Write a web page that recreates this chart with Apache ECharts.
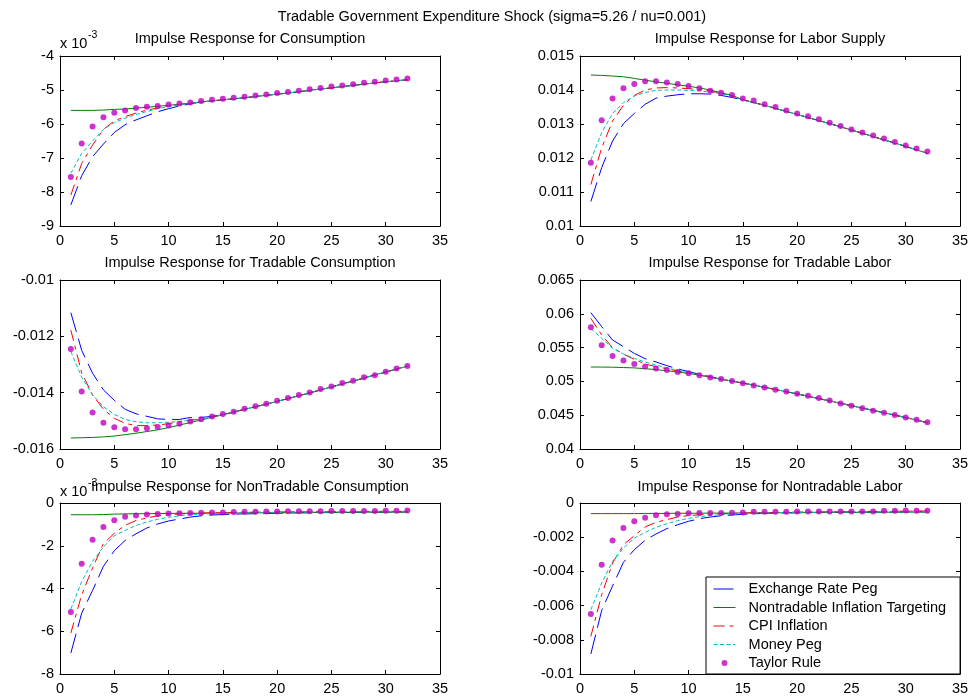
<!DOCTYPE html>
<html><head><meta charset="utf-8">
<script src="https://cdn.jsdelivr.net/npm/echarts@6/dist/echarts.min.js"></script>
<style>html,body{margin:0;padding:0;background:#fff}#c{width:972px;height:698px}</style>
</head><body><div id="c"></div>
<script>
// ---------- data ----------
const periods = [1,2,3,4,5,6,7,8,9,10,11,12,13,14,15,16,17,18,19,20,21,22,23,24,25,26,27,28,29,30,31,32];
const seriesNames = ['Exchange Rate Peg','Nontradable Inflation Targeting','CPI Inflation','Money Peg','Taylor Rule'];
const mainTitle = 'Tradable Government Expenditure Shock (sigma=5.26 / nu=0.001)';
const panelTitles = ['Impulse Response for Consumption','Impulse Response for Labor Supply',
  'Impulse Response for Tradable Consumption','Impulse Response for Tradable Labor',
  'Impulse Response for NonTradable Consumption','Impulse Response for Nontradable Labor'];
const xTicks = [0,5,10,15,20,25,30,35];

// Consumption
const consPeg    = [-0.00838,-0.00752,-0.00696,-0.00659,-0.00625,-0.00602,-0.00588,-0.00576,-0.00564,-0.00555,-0.00547,-0.00541,-0.00535,-0.00532,-0.00529,-0.00526,-0.00523,-0.00519,-0.00516,-0.00512,-0.00509,-0.00505,-0.00501,-0.00497,-0.00494,-0.00490,-0.00486,-0.00483,-0.00479,-0.00476,-0.00473,-0.00470];
const consNIT    = [-0.00560,-0.00560,-0.00560,-0.00559,-0.00557,-0.00556,-0.00553,-0.00551,-0.00548,-0.00545,-0.00542,-0.00539,-0.00535,-0.00532,-0.00529,-0.00526,-0.00523,-0.00519,-0.00516,-0.00512,-0.00509,-0.00505,-0.00501,-0.00497,-0.00494,-0.00490,-0.00486,-0.00483,-0.00479,-0.00476,-0.00473,-0.00470];
const consCPI    = [-0.00809,-0.00716,-0.00662,-0.00616,-0.00591,-0.00578,-0.00568,-0.00559,-0.00553,-0.00547,-0.00543,-0.00539,-0.00535,-0.00532,-0.00529,-0.00526,-0.00523,-0.00519,-0.00516,-0.00512,-0.00509,-0.00505,-0.00501,-0.00497,-0.00494,-0.00490,-0.00486,-0.00483,-0.00479,-0.00476,-0.00473,-0.00470];
const consMoney  = [-0.00745,-0.00686,-0.00650,-0.00616,-0.00596,-0.00583,-0.00572,-0.00563,-0.00555,-0.00549,-0.00544,-0.00540,-0.00535,-0.00532,-0.00529,-0.00526,-0.00523,-0.00519,-0.00516,-0.00512,-0.00509,-0.00505,-0.00501,-0.00497,-0.00494,-0.00490,-0.00486,-0.00483,-0.00479,-0.00476,-0.00473,-0.00470];
const consTaylor = [-0.00756,-0.00657,-0.00607,-0.00580,-0.00567,-0.00560,-0.00553,-0.00549,-0.00547,-0.00543,-0.00540,-0.00537,-0.00532,-0.00529,-0.00526,-0.00523,-0.00520,-0.00516,-0.00513,-0.00509,-0.00506,-0.00502,-0.00498,-0.00494,-0.00490,-0.00487,-0.00483,-0.00479,-0.00476,-0.00472,-0.00469,-0.00466];

// Labor Supply
const labPeg    = [0.01072,0.01172,0.01250,0.01301,0.01331,0.01358,0.01376,0.01382,0.01386,0.01389,0.01389,0.01388,0.01384,0.01378,0.01371,0.01363,0.01355,0.01346,0.01337,0.01328,0.01319,0.01310,0.01301,0.01292,0.01282,0.01273,0.01263,0.01253,0.01244,0.01234,0.01224,0.01214];
const labNIT    = [0.01444,0.01443,0.01441,0.01439,0.01434,0.01429,0.01424,0.01420,0.01415,0.01411,0.01406,0.01400,0.01392,0.01384,0.01371,0.01363,0.01355,0.01346,0.01337,0.01328,0.01319,0.01310,0.01301,0.01292,0.01282,0.01273,0.01263,0.01253,0.01244,0.01234,0.01224,0.01214];
const labCPI    = [0.01122,0.01230,0.01309,0.01355,0.01384,0.01400,0.01406,0.01407,0.01406,0.01404,0.01401,0.01397,0.01390,0.01383,0.01371,0.01363,0.01355,0.01346,0.01337,0.01328,0.01319,0.01310,0.01301,0.01292,0.01282,0.01273,0.01263,0.01253,0.01244,0.01234,0.01224,0.01214];
const labMoney  = [0.01194,0.01275,0.01331,0.01363,0.01382,0.01393,0.01399,0.01400,0.01400,0.01399,0.01397,0.01394,0.01389,0.01382,0.01371,0.01363,0.01355,0.01346,0.01337,0.01328,0.01319,0.01310,0.01301,0.01292,0.01282,0.01273,0.01263,0.01253,0.01244,0.01234,0.01224,0.01214];
const labTaylor = [0.01186,0.01311,0.01375,0.01405,0.01418,0.01426,0.01426,0.01422,0.01418,0.01412,0.01405,0.01398,0.01392,0.01385,0.01375,0.01369,0.01358,0.01350,0.01340,0.01331,0.01323,0.01314,0.01304,0.01294,0.01284,0.01275,0.01266,0.01257,0.01247,0.01237,0.01228,0.01219];

// Tradable Consumption
const tcPeg    = [-0.01116,-0.01250,-0.01331,-0.01390,-0.01427,-0.01459,-0.01475,-0.01484,-0.01493,-0.01495,-0.01495,-0.01488,-0.01488,-0.01484,-0.01478,-0.01469,-0.01459,-0.01450,-0.01441,-0.01431,-0.01421,-0.01411,-0.01401,-0.01390,-0.01380,-0.01369,-0.01359,-0.01348,-0.01337,-0.01327,-0.01316,-0.01306];
const tcNIT    = [-0.01561,-0.01560,-0.01559,-0.01557,-0.01554,-0.01549,-0.01544,-0.01538,-0.01532,-0.01524,-0.01515,-0.01506,-0.01497,-0.01487,-0.01478,-0.01469,-0.01459,-0.01450,-0.01441,-0.01431,-0.01421,-0.01411,-0.01401,-0.01390,-0.01380,-0.01369,-0.01359,-0.01348,-0.01337,-0.01327,-0.01316,-0.01306];
const tcCPI    = [-0.01178,-0.01330,-0.01408,-0.01459,-0.01491,-0.01509,-0.01517,-0.01517,-0.01515,-0.01510,-0.01503,-0.01497,-0.01495,-0.01487,-0.01478,-0.01469,-0.01459,-0.01450,-0.01441,-0.01431,-0.01421,-0.01411,-0.01401,-0.01390,-0.01380,-0.01369,-0.01359,-0.01348,-0.01337,-0.01327,-0.01316,-0.01306];
const tcMoney  = [-0.01254,-0.01345,-0.01408,-0.01450,-0.01477,-0.01495,-0.01503,-0.01507,-0.01507,-0.01505,-0.01502,-0.01498,-0.01495,-0.01487,-0.01478,-0.01469,-0.01459,-0.01450,-0.01441,-0.01431,-0.01421,-0.01411,-0.01401,-0.01390,-0.01380,-0.01369,-0.01359,-0.01348,-0.01337,-0.01327,-0.01316,-0.01306];
const tcTaylor = [-0.01245,-0.01396,-0.01470,-0.01507,-0.01523,-0.01530,-0.01530,-0.01526,-0.01522,-0.01517,-0.01510,-0.01502,-0.01494,-0.01485,-0.01476,-0.01468,-0.01457,-0.01448,-0.01439,-0.01429,-0.01419,-0.01408,-0.01399,-0.01387,-0.01378,-0.01366,-0.01358,-0.01345,-0.01338,-0.01326,-0.01314,-0.01305];

// Tradable Labor
const tlPeg    = [0.06017,0.05810,0.05612,0.05514,0.05415,0.05336,0.05287,0.05233,0.05185,0.05145,0.05105,0.05070,0.05033,0.05004,0.04975,0.04944,0.04912,0.04880,0.04848,0.04815,0.04780,0.04746,0.04711,0.04676,0.04641,0.04606,0.04571,0.04536,0.04501,0.04465,0.04428,0.04388];
const tlNIT    = [0.05213,0.05212,0.05210,0.05205,0.05200,0.05188,0.05174,0.05158,0.05138,0.05118,0.05093,0.05060,0.05033,0.05004,0.04975,0.04944,0.04912,0.04880,0.04848,0.04815,0.04780,0.04746,0.04711,0.04676,0.04641,0.04606,0.04571,0.04536,0.04501,0.04465,0.04428,0.04388];
const tlCPI    = [0.05933,0.05686,0.05499,0.05405,0.05326,0.05257,0.05218,0.05188,0.05154,0.05124,0.05095,0.05062,0.05033,0.05004,0.04975,0.04944,0.04912,0.04880,0.04848,0.04815,0.04780,0.04746,0.04711,0.04676,0.04641,0.04606,0.04571,0.04536,0.04501,0.04465,0.04428,0.04388];
const tlMoney  = [0.05780,0.05637,0.05489,0.05405,0.05341,0.05287,0.05243,0.05198,0.05164,0.05129,0.05098,0.05063,0.05033,0.05004,0.04975,0.04944,0.04912,0.04880,0.04848,0.04815,0.04780,0.04746,0.04711,0.04676,0.04641,0.04606,0.04571,0.04536,0.04501,0.04465,0.04428,0.04388];
const tlTaylor = [0.05801,0.05534,0.05377,0.05308,0.05258,0.05219,0.05190,0.05170,0.05140,0.05122,0.05092,0.05058,0.05036,0.05007,0.04974,0.04941,0.04910,0.04877,0.04851,0.04817,0.04787,0.04753,0.04719,0.04672,0.04641,0.04602,0.04567,0.04537,0.04503,0.04467,0.04434,0.04394];

// NonTradable Consumption
const ntcPeg    = [-0.00702,-0.00515,-0.00409,-0.00296,-0.00223,-0.00175,-0.00144,-0.00117,-0.00098,-0.00084,-0.00075,-0.00066,-0.00060,-0.00056,-0.00054,-0.00052,-0.00051,-0.00050,-0.00049,-0.00048,-0.00047,-0.00046,-0.00046,-0.00045,-0.00045,-0.00044,-0.00044,-0.00043,-0.00043,-0.00042,-0.00042,-0.00041];
const ntcNIT    = [-0.00055,-0.00055,-0.00055,-0.00054,-0.00052,-0.00051,-0.00050,-0.00050,-0.00049,-0.00049,-0.00048,-0.00048,-0.00048,-0.00047,-0.00047,-0.00047,-0.00046,-0.00046,-0.00046,-0.00045,-0.00045,-0.00045,-0.00045,-0.00044,-0.00044,-0.00044,-0.00044,-0.00043,-0.00043,-0.00043,-0.00043,-0.00043];
const ntcCPI    = [-0.00608,-0.00429,-0.00304,-0.00190,-0.00142,-0.00104,-0.00082,-0.00070,-0.00060,-0.00055,-0.00051,-0.00049,-0.00047,-0.00046,-0.00045,-0.00044,-0.00043,-0.00043,-0.00042,-0.00042,-0.00041,-0.00041,-0.00041,-0.00040,-0.00040,-0.00040,-0.00040,-0.00039,-0.00039,-0.00039,-0.00039,-0.00039];
const ntcMoney  = [-0.00496,-0.00367,-0.00273,-0.00205,-0.00153,-0.00128,-0.00105,-0.00089,-0.00076,-0.00067,-0.00060,-0.00055,-0.00052,-0.00050,-0.00048,-0.00047,-0.00046,-0.00045,-0.00044,-0.00044,-0.00043,-0.00043,-0.00042,-0.00042,-0.00042,-0.00041,-0.00041,-0.00041,-0.00040,-0.00040,-0.00040,-0.00040];
const ntcTaylor = [-0.00510,-0.00284,-0.00172,-0.00112,-0.00081,-0.00064,-0.00058,-0.00054,-0.00052,-0.00049,-0.00048,-0.00047,-0.00046,-0.00045,-0.00045,-0.00042,-0.00041,-0.00041,-0.00040,-0.00040,-0.00039,-0.00039,-0.00039,-0.00039,-0.00038,-0.00038,-0.00038,-0.00038,-0.00038,-0.00036,-0.00036,-0.00035];

// Nontradable Labor
const ntlPeg    = [-0.00883,-0.00628,-0.00485,-0.00347,-0.00273,-0.00218,-0.00181,-0.00150,-0.00127,-0.00107,-0.00092,-0.00082,-0.00075,-0.00070,-0.00066,-0.00063,-0.00061,-0.00059,-0.00058,-0.00057,-0.00056,-0.00055,-0.00055,-0.00054,-0.00054,-0.00053,-0.00053,-0.00053,-0.00052,-0.00052,-0.00052,-0.00051];
const ntlNIT    = [-0.00062,-0.00062,-0.00062,-0.00062,-0.00062,-0.00061,-0.00061,-0.00061,-0.00060,-0.00060,-0.00060,-0.00059,-0.00059,-0.00059,-0.00058,-0.00058,-0.00058,-0.00057,-0.00057,-0.00057,-0.00056,-0.00056,-0.00056,-0.00055,-0.00055,-0.00055,-0.00054,-0.00054,-0.00054,-0.00053,-0.00053,-0.00053];
const ntlCPI    = [-0.00780,-0.00536,-0.00351,-0.00244,-0.00191,-0.00140,-0.00113,-0.00097,-0.00082,-0.00074,-0.00069,-0.00066,-0.00063,-0.00061,-0.00059,-0.00057,-0.00056,-0.00055,-0.00054,-0.00053,-0.00052,-0.00052,-0.00051,-0.00051,-0.00050,-0.00050,-0.00049,-0.00049,-0.00048,-0.00048,-0.00047,-0.00047];
const ntlMoney  = [-0.00624,-0.00468,-0.00341,-0.00263,-0.00205,-0.00172,-0.00142,-0.00121,-0.00103,-0.00090,-0.00080,-0.00073,-0.00068,-0.00064,-0.00062,-0.00060,-0.00058,-0.00057,-0.00056,-0.00055,-0.00054,-0.00054,-0.00053,-0.00053,-0.00052,-0.00052,-0.00052,-0.00051,-0.00051,-0.00051,-0.00050,-0.00050];
const ntlTaylor = [-0.00649,-0.00361,-0.00220,-0.00146,-0.00107,-0.00086,-0.00072,-0.00066,-0.00064,-0.00060,-0.00058,-0.00058,-0.00058,-0.00057,-0.00056,-0.00051,-0.00051,-0.00051,-0.00051,-0.00050,-0.00050,-0.00050,-0.00050,-0.00050,-0.00050,-0.00050,-0.00050,-0.00045,-0.00045,-0.00044,-0.00045,-0.00045];

// ---------- layout / style ----------
const FONT = 'Liberation Sans, Arial, sans-serif';
const FS = 14.5;
const panels = [
  {data:[consPeg,consNIT,consCPI,consMoney,consTaylor], min:-0.009, max:-0.004, interval:0.001, scaled:true},
  {data:[labPeg,labNIT,labCPI,labMoney,labTaylor], min:0.010, max:0.015, interval:0.001},
  {data:[tcPeg,tcNIT,tcCPI,tcMoney,tcTaylor], min:-0.016, max:-0.010, interval:0.002},
  {data:[tlPeg,tlNIT,tlCPI,tlMoney,tlTaylor], min:0.040, max:0.065, interval:0.005},
  {data:[ntcPeg,ntcNIT,ntcCPI,ntcMoney,ntcTaylor], min:-0.008, max:0, interval:0.002, scaled:true},
  {data:[ntlPeg,ntlNIT,ntlCPI,ntlMoney,ntlTaylor], min:-0.010, max:0, interval:0.002}
];
const gridRects = [
  {left:60, top:56, width:380, height:170},
  {left:580, top:56, width:380, height:170},
  {left:60, top:280, width:380, height:169},
  {left:580, top:280, width:380, height:169},
  {left:60, top:503, width:380, height:171},
  {left:580, top:503, width:380, height:171}
];
const titleY = [39, 39, 263, 263, 487, 487];
const lineStyles = [
  {color:'#0000ff', type:[20,7]},
  {color:'#008000', type:'solid'},
  {color:'#ff0000', type:[11,5,4,5]},
  {color:'#00bfbf', type:[4,2.5]}
];
const taylorColor = '#bf00bf';

const grid = [], xAxis = [], yAxis = [], series = [], graphic = [];
const axisCommon = {
  axisLine:{show:true, onZero:false, lineStyle:{color:'#000', width:1}},
  axisTick:{show:true, inside:true, length:4, lineStyle:{color:'#000', width:1}},
  splitLine:{show:false}
};
panels.forEach((p, gi) => {
  grid.push(Object.assign({show:false, containLabel:false}, gridRects[gi]));
  const fmtY = p.scaled ? (v => String(Math.round(v*1000))) : (v => String(parseFloat(v.toFixed(5))));
  xAxis.push(Object.assign({type:'value', gridIndex:gi, position:'bottom', min:xTicks[0], max:xTicks[xTicks.length-1], interval:5,
    axisLabel:{show:true, color:'#000', fontFamily:FONT, fontSize:FS, margin:7, showMinLabel:true, showMaxLabel:true}}, axisCommon));
  xAxis.push(Object.assign({type:'value', gridIndex:gi, position:'top', min:xTicks[0], max:xTicks[xTicks.length-1], interval:5,
    axisLabel:{show:false}}, axisCommon));
  yAxis.push(Object.assign({type:'value', gridIndex:gi, position:'left', min:p.min, max:p.max, interval:p.interval,
    axisLabel:{show:true, color:'#000', fontFamily:FONT, fontSize:FS, margin:6, formatter:fmtY, showMinLabel:true, showMaxLabel:true}}, axisCommon));
  yAxis.push(Object.assign({type:'value', gridIndex:gi, position:'right', min:p.min, max:p.max, interval:p.interval,
    axisLabel:{show:false}}, axisCommon));
  p.data.forEach((arr, si) => {
    const pts = periods.map((x, i) => [x, arr[i]]);
    if (si < 4) {
      series.push({type:'line', name:seriesNames[si], xAxisIndex:gi*2, yAxisIndex:gi*2, data:pts,
        symbol:'none', showSymbol:false, smooth:false, silent:true, animation:false,
        itemStyle:{color:lineStyles[si].color},
        lineStyle:{color:lineStyles[si].color, width:1, type:lineStyles[si].type}, z:2+si});
    } else {
      series.push({type:'scatter', name:seriesNames[si], xAxisIndex:gi*2, yAxisIndex:gi*2, data:pts,
        symbol:'circle', symbolSize:6, silent:true, animation:false,
        itemStyle:{color:taylorColor}, z:7});
    }
  });
  const r = gridRects[gi];
  graphic.push({type:'text', x:r.left + r.width/2, y:titleY[gi], z:20,
    style:{text:panelTitles[gi], fill:'#000', font:FS+'px '+FONT, textAlign:'center', textVerticalAlign:'middle'}});
});
graphic.push({type:'text', x:492, y:17, style:{text:mainTitle, fill:'#000', font:FS+'px '+FONT, textAlign:'center', textVerticalAlign:'middle'}});
// exponent labels
[[44, 35], [492, 483]].forEach(([yb, ys]) => {
  graphic.push({type:'text', x:60, y:yb, z:21, style:{text:'x 10', fill:'#000', font:FS+'px '+FONT, textAlign:'left', textVerticalAlign:'middle'}});
  graphic.push({type:'text', x:88, y:ys, z:21, style:{text:'-3', fill:'#000', font:'10.5px '+FONT, textAlign:'left', textVerticalAlign:'middle'}});
});

const chart = echarts.init(document.getElementById('c'), null, {renderer:'canvas'});
chart.setOption({
  animation:false,
  backgroundColor:'#fff',
  grid, xAxis, yAxis, series, graphic,
  legend:{
    show:true, orient:'vertical', left:706, top:577, z:30,
    data:seriesNames.map((n, i) => i < 4
      ? {name:n, itemStyle:{opacity:0}, lineStyle:{width:1, color:lineStyles[i].color, type:lineStyles[i].type}}
      : {name:n, icon:'circle', itemStyle:{color:taylorColor}}),
    itemWidth:22, itemHeight:6, itemGap:0.5,
    padding:[3, 14, 2, 7],
    backgroundColor:'#fff', borderColor:'#000', borderWidth:1, borderRadius:0,
    formatter: n => '  ' + n,
    textStyle:{color:'#000', fontFamily:FONT, fontSize:FS, lineHeight:18},
    selectedMode:false
  }
});
</script></body></html>
